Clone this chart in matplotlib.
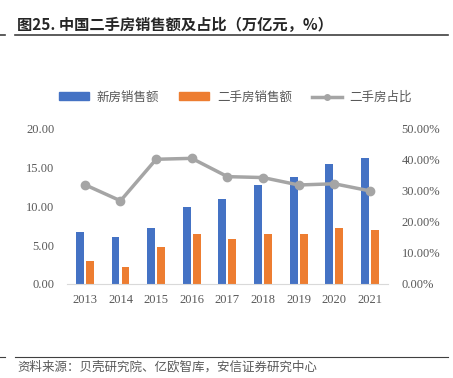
import matplotlib

matplotlib.use('Agg')
import matplotlib.pyplot as plt
from matplotlib.lines import Line2D
from matplotlib.patches import Patch
import numpy as np

plt.rcParams['font.family'] = ['Noto Sans CJK SC', 'DejaVu Sans']

years = ["2013", "2014", "2015", "2016", "2017", "2018", "2019", "2020", "2021"]
new_sales = [6.75, 6.1, 7.2, 9.9, 10.9, 12.7, 13.8, 15.5, 16.3]
used_sales = [3.0, 2.2, 4.7, 6.5, 5.8, 6.4, 6.4, 7.2, 6.9]
used_share = [32.0, 26.8, 40.2, 40.5, 34.6, 34.3, 31.9, 32.3, 30.0]

blue = "#4472C4"
orange = "#ED7D31"
grey = "#A5A5A5"
tick_color = "#595959"

fig = plt.figure(figsize=(4.53, 3.78), dpi=100)
ax = fig.add_axes([0.148, 0.249, 0.708, 0.41])
ax2 = ax.twinx()

x = np.arange(len(years))
w = 0.22
ax.bar(x - 0.14, new_sales, w, color=blue, zorder=2)
ax.bar(x + 0.14, used_sales, w, color=orange, zorder=2)
ax2.plot(x, used_share, color=grey, lw=2.5, marker="o", ms=6, zorder=3)

ax.set_xlim(-0.5, len(years) - 0.5)
ax.set_ylim(0, 20)
ax2.set_ylim(0, 50)
ax.set_yticks(np.arange(0, 20.1, 5))
ax.set_yticklabels(["%.2f" % v for v in np.arange(0, 20.1, 5)])
ax2.set_yticks(np.arange(0, 50.1, 10))
ax2.set_yticklabels(["%.2f%%" % v for v in np.arange(0, 50.1, 10)])
ax.set_xticks(x)
ax.set_xticklabels(years)

for a in (ax, ax2):
    for s in a.spines.values():
        s.set_visible(False)
    a.tick_params(length=0, labelsize=9, colors=tick_color)
    for lab in a.get_xticklabels() + a.get_yticklabels():
        lab.set_family("Liberation Serif")
ax.spines["bottom"].set_visible(True)
ax.spines["bottom"].set_color("#D9D9D9")
ax.tick_params(axis="y", pad=9)
ax2.tick_params(axis="y", pad=10)
ax.tick_params(axis="x", pad=7)

handles = [Patch(color=blue), Patch(color=orange),
           Line2D([0], [0], color=grey, lw=2.5, marker="o", ms=4)]
labels = ["新房销售额", "二手房销售额", "二手房占比"]
fig.legend(handles, labels, loc="center", bbox_to_anchor=(0.52, 0.743), ncol=3,
           frameon=False, fontsize=9, labelcolor=tick_color, handlelength=2.4,
           handleheight=0.55, columnspacing=1.6, handletextpad=0.6)

fig.text(0.038, 0.934, "图25. 中国二手房销售额及占比（万亿元，%）", fontsize=11,
         fontweight="bold", color="#262626", va="center")
fig.add_artist(Line2D([0.033, 0.99], [0.907, 0.907], color="#404040", lw=1.2))
fig.add_artist(Line2D([0.0, 0.012], [0.907, 0.907], color="#404040", lw=1.2))
fig.add_artist(Line2D([0.033, 0.99], [0.056, 0.056], color="#404040", lw=0.8))
fig.add_artist(Line2D([0.0, 0.012], [0.056, 0.056], color="#404040", lw=0.8))
fig.text(0.038, 0.029, "资料来源：贝壳研究院、亿欧智库，安信证券研究中心", fontsize=9,
         color="#595959", va="center")

fig.savefig("out.png", dpi=100)
